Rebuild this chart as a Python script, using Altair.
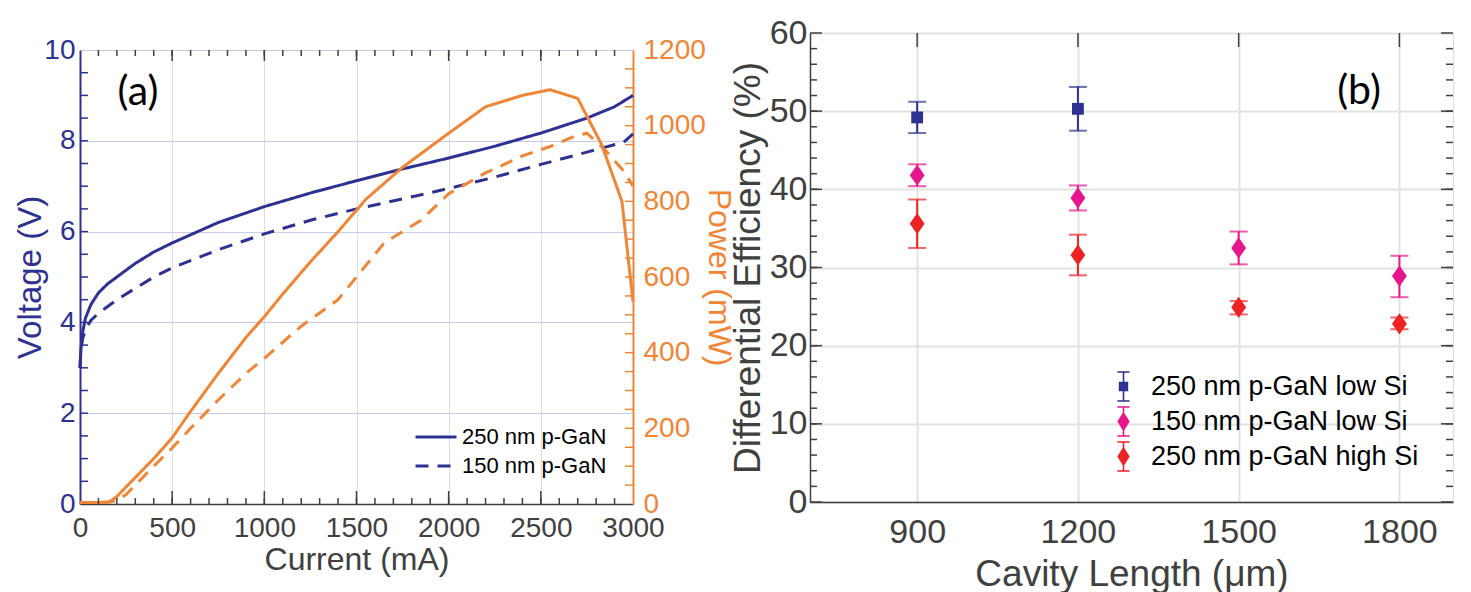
import altair as alt
import pandas as pd

# ---------------- Panel (a) data ----------------
SERIES_A = ["250 nm p-GaN", "150 nm p-GaN"]

I_V250 = [0, 5, 15, 30, 60, 100, 150, 200, 300, 400, 500, 750, 1000, 1250, 1500, 1750, 2000, 2250, 2500, 2750, 2900, 3000]
V_250 = [3.0, 3.4, 3.8, 4.1, 4.4, 4.65, 4.85, 5.0, 5.3, 5.55, 5.75, 6.2, 6.55, 6.85, 7.12, 7.38, 7.62, 7.88, 8.17, 8.5, 8.75, 9.0]

I_V150 = [0, 5, 15, 30, 60, 100, 150, 200, 300, 400, 500, 750, 1000, 1250, 1500, 1750, 2000, 2250, 2500, 2750, 2950, 3000]
V_150 = [3.0, 3.4, 3.65, 3.85, 4.05, 4.2, 4.35, 4.5, 4.75, 5.0, 5.2, 5.6, 5.95, 6.25, 6.5, 6.72, 6.95, 7.2, 7.48, 7.75, 7.97, 8.15]

I_P250 = [0, 100, 160, 200, 250, 300, 400, 500, 600, 750, 900, 1000, 1100, 1250, 1400, 1550, 1750, 2000, 2200, 2400, 2550, 2700, 2830, 2940, 3000]
P_250 = [4, 4, 6, 20, 45, 70, 120, 175, 245, 345, 440, 495, 555, 640, 720, 805, 890, 980, 1050, 1080, 1095, 1072, 950, 800, 535]

I_P150 = [0, 150, 200, 250, 300, 400, 500, 600, 750, 900, 1000, 1200, 1400, 1500, 1650, 1850, 2000, 2200, 2400, 2550, 2700, 2750, 2850, 2950, 3000]
P_150 = [4, 4, 10, 25, 50, 100, 148, 200, 275, 345, 385, 470, 540, 600, 690, 750, 820, 875, 920, 945, 975, 980, 935, 880, 840]

CUR_LABELS = [0, 500, 1000, 1500, 2000, 2500, 3000]
VOLT_LABELS = [0, 2, 4, 6, 8, 10]
POW_LABELS = [0, 200, 400, 600, 800, 1000, 1200]

# minor tick positions
CUR_MINOR = list(range(100, 3000, 100))
CUR_MAJOR = [500, 1000, 1500, 2000, 2500]
VOLT_MINOR = [v / 2 for v in range(1, 20)]
POW_MINOR = list(range(50, 1200, 50))

# ---------------- Panel (b) data ----------------
SERIES_B = ["250 nm p-GaN low Si", "150 nm p-GaN low Si", "250 nm p-GaN high Si"]
L_B1 = [900, 1200]
E_B1 = [49.2, 50.3]
LO_B1 = [47.2, 47.5]
HI_B1 = [51.2, 53.1]

L_B2 = [900, 1200, 1500, 1800]
E_B2 = [41.8, 38.9, 32.5, 28.9]
LO_B2 = [40.4, 37.3, 30.4, 26.2]
HI_B2 = [43.2, 40.5, 34.6, 31.5]

L_B3 = [900, 1200, 1500, 1800]
E_B3 = [35.6, 31.6, 24.9, 22.8]
LO_B3 = [32.5, 29.0, 24.0, 22.1]
HI_B3 = [38.7, 34.2, 25.7, 23.6]

LEN_LABELS = [900, 1200, 1500, 1800]
EFF_LABELS = [0, 10, 20, 30, 40, 50, 60]
EFF_MINOR = list(range(2, 60, 2))

PANEL_LABELS = ["(a)", "(b)"]

# ---------------- style ----------------
BLUE = "#2E3192"
ORANGE = "#EF8535"
MAGENTA = "#E6168C"
RED = "#ED2224"
GRAY = "#404040"
FONT = "Liberation Sans"
WA, HA = 553, 454
WB, HB = 643, 469

# ---------------- Panel (a) ----------------
volt_df = pd.DataFrame({
    "I": I_V250 + I_V150,
    "V": V_250 + V_150,
    "s": [SERIES_A[0]] * len(I_V250) + [SERIES_A[1]] * len(I_V150),
})
pow_df = pd.DataFrame({
    "I": I_P250 + I_P150,
    "P": P_250 + P_150,
    "s": [SERIES_A[0]] * len(I_P250) + [SERIES_A[1]] * len(I_P150),
})

xa = alt.Scale(domain=[0, 3000], nice=False, zero=False)
yv = alt.Scale(domain=[0, 10], nice=False)
yp = alt.Scale(domain=[0, 1200], nice=False)
dash = alt.Scale(domain=SERIES_A, range=[[1, 0], [13, 9]])

x_axis_a = alt.Axis(
    title="Current (mA)", values=CUR_LABELS, format="d", labelFont=FONT,
    labelFontSize=28, labelColor=GRAY, titleFont=FONT, titleFontSize=32,
    titleColor=GRAY, titleFontWeight="normal", tickSize=0, labelPadding=10,
    titlePadding=2, domain=True, domainColor=GRAY, domainWidth=1.5,
    grid=True, gridColor="#dedede", gridWidth=1, labelFlush=False,
    labelOverlap=False,
)
y_axis_v = alt.Axis(
    title="Voltage (V)", values=VOLT_LABELS, labelFont=FONT, labelFontSize=28,
    labelColor=BLUE, titleFont=FONT, titleFontSize=33, titleColor=BLUE,
    titleFontWeight="normal", tickSize=0, labelPadding=5, titlePadding=-4,
    domain=True, domainColor=BLUE, domainWidth=2, grid=True,
    gridColor="#cacaee", gridWidth=1, labelOverlap=False,
)
y_axis_p = alt.Axis(
    title="Power (mW)", orient="right", values=POW_LABELS, format="d",
    labelFont=FONT, labelFontSize=28, labelColor=ORANGE, titleFont=FONT,
    titleFontSize=32, titleColor=ORANGE, titleFontWeight="normal", tickSize=0,
    labelPadding=10, titlePadding=-4, domain=True, domainColor=ORANGE,
    domainWidth=2, grid=False, labelOverlap=False,
)

# legends of a concatenated chart are placed from the top-level origin
# (left edge of panel (a)'s plot, top edge of panel (b)'s plot)
legend_a = alt.Legend(
    title=None, orient="none", legendX=344, legendY=392,
    symbolType="M-2,0L2,0", symbolSize=420, symbolStrokeWidth=3,
    symbolStrokeColor=BLUE, symbolOpacity=1, labelFont=FONT,
    labelFontSize=22, labelColor="black", labelOffset=14, rowPadding=6,
    padding=0, labelLimit=400,
)

xa_enc = alt.X("I:Q", scale=xa, axis=x_axis_a)

volt = alt.Chart(volt_df).mark_line(color=BLUE, strokeWidth=3).encode(
    x=xa_enc,
    y=alt.Y("V:Q", scale=yv, axis=y_axis_v),
    strokeDash=alt.StrokeDash("s:N", scale=dash, legend=legend_a),
    detail="s:N",
)
power = alt.Chart(pow_df).mark_line(color=ORANGE, strokeWidth=3).encode(
    x=xa_enc,
    y=alt.Y("P:Q", scale=yp, axis=y_axis_p),
    strokeDash=alt.StrokeDash("s:N", scale=dash, legend=legend_a),
    detail="s:N",
)


def yticks(vals, yscale, yaxis, side, length, color, width):
    x0, x1 = (0, length) if side == "left" else (width - length, width)
    return alt.Chart(pd.DataFrame({"t": vals})).mark_rule(
        color=color, strokeWidth=1.5
    ).encode(
        y=alt.Y("t:Q", scale=yscale, axis=yaxis),
        x=alt.value(x0), x2=alt.value(x1),
    )


def xticks(vals, xscale, xaxis, side, length, color, height):
    y0, y1 = (height - length, height) if side == "bottom" else (0, length)
    return alt.Chart(pd.DataFrame({"t": vals})).mark_rule(
        color=color, strokeWidth=1.5
    ).encode(
        x=alt.X("t:Q", scale=xscale, axis=xaxis),
        y=alt.value(y0), y2=alt.value(y1),
    )


ticks_a = [
    yticks(VOLT_MINOR, yv, None, "left", 8, BLUE, WA),
    yticks(POW_MINOR, yp, None, "right", 8, ORANGE, WA),
    xticks(CUR_MINOR, xa, x_axis_a, "bottom", 6, GRAY, HA),
    xticks(CUR_MAJOR, xa, x_axis_a, "bottom", 13, GRAY, HA),
    xticks(CUR_MINOR, xa, x_axis_a, "top", 6, GRAY, HA),
    xticks(CUR_MAJOR, xa, x_axis_a, "top", 11, GRAY, HA),
]

label_a = alt.Chart(pd.DataFrame({"t": [PANEL_LABELS[0]]})).mark_text(
    font="Lato", fontSize=41, color="black", align="center", baseline="middle"
).encode(text="t:N", x=alt.value(58), y=alt.value(43))

panel_a = alt.layer(
    volt, power, *ticks_a, label_a
).resolve_scale(y="independent").properties(width=WA, height=HA)

# invisible strip above panel (a): its plot starts lower than panel (b)'s
spacer_a = alt.Chart(pd.DataFrame({"t": [0]})).mark_rule(
    strokeOpacity=0, strokeWidth=0.5
).encode(x=alt.value(0), x2=alt.value(10), y=alt.value(0)).properties(
    width=WA, height=1, view=alt.ViewBackground(stroke="transparent")
)

col_a = alt.vconcat(spacer_a, panel_a, spacing=0)

# ---------------- Panel (b) ----------------
b_df = pd.DataFrame({
    "L": L_B1 + L_B2 + L_B3,
    "E": E_B1 + E_B2 + E_B3,
    "lo": LO_B1 + LO_B2 + LO_B3,
    "hi": HI_B1 + HI_B2 + HI_B3,
    "s": [SERIES_B[0]] * len(L_B1) + [SERIES_B[1]] * len(L_B2) + [SERIES_B[2]] * len(L_B3),
})

xb = alt.Scale(domain=[700, 1900], nice=False, zero=False)
yb = alt.Scale(domain=[0, 60], nice=False)
cb = alt.Scale(domain=SERIES_B, range=[BLUE, MAGENTA, RED])

x_axis_b = alt.Axis(
    title="Cavity Length (μm)", values=LEN_LABELS, format="d", labelFont=FONT,
    labelFontSize=34, labelColor=GRAY, titleFont=FONT, titleFontSize=37,
    titleColor=GRAY, titleFontWeight="normal", tickSize=0, labelPadding=13,
    titlePadding=7, domain=True, domainColor=GRAY, domainWidth=1.5,
    grid=True, gridColor="#e2e2e2", gridWidth=2, labelFlush=False,
)
y_axis_b = alt.Axis(
    title="Differential Efficiency (%)", values=EFF_LABELS, labelFont=FONT,
    labelFontSize=34, labelColor=GRAY, titleFont=FONT, titleFontSize=37,
    titleColor=GRAY, titleFontWeight="normal", tickSize=0, labelPadding=3,
    titlePadding=2, domain=True, domainColor=GRAY, domainWidth=1.5,
    grid=True, gridColor="#e2e2e2", gridWidth=2, labelOverlap=False,
)

DIAMOND = "M0,-1L0.7,0L0,1L-0.7,0Z"
ERRBAR = "M-0.42,-1L0.42,-1M0,-1L0,1M-0.42,1L0.42,1"


def hatch_diamond(hw, hh, step):
    parts = [f"M0,{-hh}L{hw},0L0,{hh}L{-hw},0Z"]
    n = int(2 * hh / step)
    for k in range(n + 1):
        yy = -hh + k * step
        w = hw * (1 - abs(yy) / hh)
        if w > 0.01:
            parts.append(f"M{-w:.3f},{yy:.3f}L{w:.3f},{yy:.3f}")
    return "".join(parts)


def hatch_square(h, step):
    parts = [f"M{-h},{-h}L{h},{-h}L{h},{h}L{-h},{h}Z"]
    n = int(2 * h / step)
    for k in range(n + 1):
        yy = -h + k * step
        parts.append(f"M{-h:.3f},{yy:.3f}L{h:.3f},{yy:.3f}")
    return "".join(parts)


LEG_SQ = ERRBAR + hatch_square(0.27, 0.06)
LEG_DI = ERRBAR + hatch_diamond(0.36, 0.58, 0.06)

legend_b = alt.Legend(
    title=None, orient="none", legendX=1028, legendY=338, symbolSize=841,
    symbolStrokeWidth=1.6, symbolOpacity=1, labelFont=FONT, labelFontSize=27,
    labelColor="black", labelOffset=12, rowPadding=-2, padding=0,
    labelLimit=400,
)

base_b = alt.Chart(b_df)
xb_enc = alt.X("L:Q", scale=xb, axis=x_axis_b)
cenc = alt.Color("s:N", scale=cb, legend=legend_b)

# legend-only layer (first, so its symbol style leads): no rows pass the
# filter, the legend entries come from the scale domains
legend_layer = base_b.transform_filter(alt.datum.E < -100).mark_point(
    filled=False, strokeWidth=1.6, opacity=1
).encode(
    x=xb_enc, y=alt.Y("E:Q", scale=yb, axis=y_axis_b),
    color=cenc,
    shape=alt.Shape("s:N", scale=alt.Scale(domain=SERIES_B, range=[LEG_SQ, LEG_DI, LEG_DI]), legend=legend_b),
)

bars = base_b.mark_rule(strokeWidth=2).encode(
    x=xb_enc,
    y=alt.Y("lo:Q", scale=yb, axis=y_axis_b),
    y2="hi:Q",
    color=cenc,
)
cap_lo = base_b.mark_tick(orient="horizontal", size=18, thickness=2).encode(
    x=xb_enc, y=alt.Y("lo:Q", scale=yb, axis=y_axis_b), color=cenc
)
cap_hi = base_b.mark_tick(orient="horizontal", size=18, thickness=2).encode(
    x=xb_enc, y=alt.Y("hi:Q", scale=yb, axis=y_axis_b), color=cenc
)
squares = base_b.transform_filter(alt.datum.s == SERIES_B[0]).mark_point(
    shape="square", filled=True, size=140, opacity=1
).encode(x=xb_enc, y=alt.Y("E:Q", scale=yb, axis=y_axis_b), color=cenc)
diamonds = base_b.transform_filter(alt.datum.s != SERIES_B[0]).mark_point(
    shape=DIAMOND, filled=True, size=450, opacity=1
).encode(x=xb_enc, y=alt.Y("E:Q", scale=yb, axis=y_axis_b), color=cenc)

ticks_b = [
    yticks(EFF_MINOR, yb, y_axis_b, "left", 7, GRAY, WB),
    yticks(EFF_LABELS, yb, y_axis_b, "left", 12, GRAY, WB),
    yticks(EFF_MINOR, yb, y_axis_b, "right", 7, GRAY, WB),
    yticks(EFF_LABELS, yb, y_axis_b, "right", 12, GRAY, WB),
    xticks(LEN_LABELS, xb, x_axis_b, "top", 14, GRAY, HB),
]

label_b = alt.Chart(pd.DataFrame({"t": [PANEL_LABELS[1]]})).mark_text(
    font="Lato", fontSize=41, color="black", align="center", baseline="middle"
).encode(text="t:N", x=alt.value(549), y=alt.value(59))

panel_b = alt.layer(
    legend_layer, bars, cap_lo, cap_hi, squares, diamonds, label_b, *ticks_b
).properties(width=WB, height=HB)

chart = alt.hconcat(col_a, panel_b, spacing=-7).properties(
    padding={"left": 6, "top": 7, "right": 5, "bottom": 0}
).configure_view(stroke=GRAY, strokeWidth=1.5).configure(background="white")

chart.save("out.html", embed_options={"renderer": "svg", "actions": False})
